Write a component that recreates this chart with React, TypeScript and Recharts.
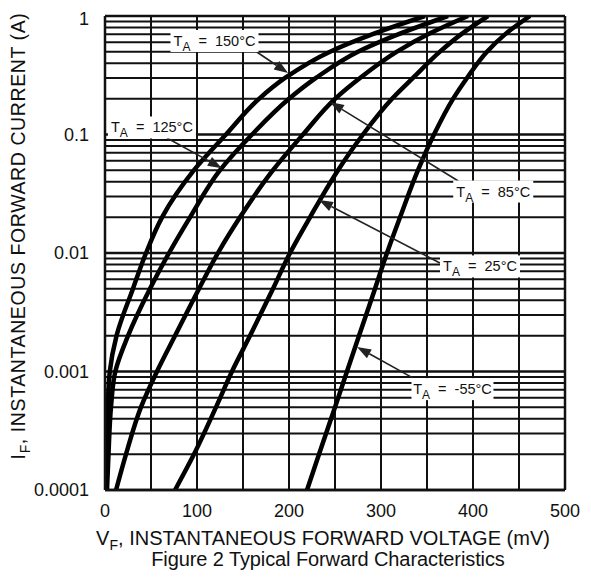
import { LineChart, Line, XAxis, YAxis, CartesianGrid, ReferenceLine, ReferenceDot } from "recharts"

// forward current levels (A) at which the curves were read
const currents = [0.0001, 0.0002, 0.0005, 0.001, 0.002, 0.005, 0.01, 0.02, 0.05, 0.1, 0.2, 0.3, 0.5, 0.7, 1]

// forward voltage (mV) of each curve at those currents
const v150 = [1.1, 2.0, 3.0, 5.2, 12.5, 30.4, 44.6, 62.0, 96.7, 131.5, 167.4, 195.7, 244.6, 290.2, 347.8]
const v125 = [2.2, 3.8, 6.5, 11.2, 25.0, 48.9, 69.6, 92.4, 125.0, 159.8, 200.0, 229.3, 275.0, 318.5, 372.8]
const v85 = [12.0, 22.8, 39.1, 56.5, 76.1, 102.2, 122.8, 146.7, 182.6, 215.2, 250.0, 277.2, 317.4, 351.1, 394.6]
const v25 = [76.1, 96.7, 120.7, 138.0, 157.6, 182.6, 201.1, 222.8, 253.3, 280.4, 312.0, 334.8, 364.1, 387.0, 416.3]
const vm55 = [219.6, 232.6, 250.0, 263.0, 276.1, 293.5, 306.5, 320.7, 340.2, 357.6, 378.3, 393.5, 415.2, 434.8, 462.0]

const xTicks = [0, 100, 200, 300, 400, 500]
const xGrid = [0, 50, 100, 150, 200, 250, 300, 350, 400, 450, 500]
const yTicks = [0.0001, 0.001, 0.01, 0.1, 1]
const yTickLabels = ["0.0001", "0.001", "0.01", "0.1", "1"]

// minor log grid: 2..9 in every decade
const yGrid: number[] = []
for (let d = 0; d < 4; d++) {
  for (let k = 2; k <= 9; k++) yGrid.push(k * yTicks[d])
}

// annotations: text, box centre, arrow start and arrow tip
const notes = [
  { t: "150°C", at: { v: 119, i: 0.615 }, w: 88, from: { v: 165, i: 0.497 }, to: { v: 199, i: 0.33 } },
  { t: "125°C", at: { v: 51, i: 0.1146 }, w: 88, from: { v: 67.4, i: 0.0934 }, to: { v: 127, i: 0.052 } },
  { t: "85°C", at: { v: 422, i: 0.033 }, w: 80, from: { v: 384, i: 0.0405 }, to: { v: 244.6, i: 0.188 } },
  { t: "25°C", at: { v: 407.6, i: 0.0077 }, w: 80, from: { v: 364, i: 0.00824 }, to: { v: 232.6, i: 0.028 } },
  { t: "-55°C", at: { v: 377.7, i: 0.00071 }, w: 82, from: { v: 335, i: 0.00088 }, to: { v: 274, i: 0.00161 } },
]

const toPts = (vs: number[]) => vs.map((v, k) => ({ v, i: currents[k] }))
const series = [v150, v125, v85, v25, vm55].map(toPts)

const FONT = '"Liberation Sans", Arial, sans-serif'

const Arrow = (props: any) => {
  const { x1, y1, x2, y2 } = props
  const a = Math.atan2(y2 - y1, x2 - x1)
  const L = 14
  const W = 5
  const bx = x2 - L * Math.cos(a)
  const by = y2 - L * Math.sin(a)
  const px = -Math.sin(a) * W
  const py = Math.cos(a) * W
  return (
    <g>
      <line x1={x1} y1={y1} x2={bx} y2={by} stroke="#222" strokeWidth={1.6} />
      <polygon points={`${x2},${y2} ${bx + px},${by + py} ${bx - px},${by - py}`} fill="#222" />
    </g>
  )
}

const noteBox = (text: string, w: number) => (props: any) => {
  const { cx, cy } = props
  return (
    <g>
      <rect x={cx - w / 2} y={cy - 11} width={w} height={22} fill="#fff" />
      <text x={cx} y={cy + 5} textAnchor="middle" fontFamily={FONT} fontSize={14.5} fill="#111" style={{ whiteSpace: "pre" }}>
        T<tspan fontSize={12} dy={5}>A</tspan>
        <tspan dy={-5}>{"  =  " + text}</tspan>
      </text>
    </g>
  )
}

const YTitle = (props: any) => {
  const vb = props.viewBox
  const x = vb.x + 17
  const y = vb.y + vb.height / 2 - 17
  return (
    <text x={x} y={y} transform={`rotate(-90 ${x} ${y})`} textAnchor="middle" fontFamily={FONT} fontSize={19.5} letterSpacing={0.6} fill="#111">
      I<tspan fontSize={14} dy={5}>F</tspan>
      <tspan dy={-5}>, INSTANTANEOUS FORWARD CURRENT (A)</tspan>
    </text>
  )
}

const XTitle = (props: any) => {
  const vb = props.viewBox
  const x = vb.x + vb.width / 2 - 12
  return (
    <g fontFamily={FONT} fill="#111">
      <text x={x} y={vb.y + 55} textAnchor="middle" fontSize={20}>
        V<tspan fontSize={14} dy={5}>F</tspan>
        <tspan dy={-5}>, INSTANTANEOUS FORWARD VOLTAGE (mV)</tspan>
      </text>
      <text x={x + 5} y={vb.y + 76} textAnchor="middle" fontSize={20} letterSpacing={-0.1}>
        Figure 2 Typical Forward Characteristics
      </text>
    </g>
  )
}

export default function App() {
  return (
    <LineChart width={575} height={563} margin={{ top: 8, right: 18, left: 0, bottom: 0 }} style={{ fontFamily: FONT }}>
      <CartesianGrid horizontal={false} verticalValues={xGrid} stroke="#111" strokeWidth={2} />
      {yGrid.map((g) => (
        <ReferenceLine key={"g" + g} y={g} stroke="#111" strokeWidth={2} />
      ))}
      {yTicks.map((g) => (
        <ReferenceLine key={"d" + g} y={g} stroke="#111" strokeWidth={2.5} />
      ))}
      <XAxis
        type="number"
        dataKey="v"
        domain={[0, 500]}
        ticks={xTicks}
        allowDataOverflow
        height={81}
        tickLine={false}
        tickSize={0}
        tickMargin={14}
        axisLine={{ stroke: "#111", strokeWidth: 2.5 }}
        tick={{ fill: "#111", fontSize: 18, fontFamily: FONT }}
        label={{ content: XTitle }}
      />
      <YAxis
        type="number"
        dataKey="i"
        scale="log"
        domain={[0.0001, 1]}
        ticks={yTicks}
        allowDataOverflow
        width={97}
        tickLine={false}
        tickSize={0}
        tickMargin={16}
        axisLine={{ stroke: "#111", strokeWidth: 2.5 }}
        tick={{ fill: "#111", fontSize: 18, fontFamily: FONT }}
        tickFormatter={(val: number) => yTickLabels[yTicks.indexOf(val)] ?? String(val)}
        label={{ content: YTitle }}
      />
      <ReferenceLine x={500} stroke="#111" strokeWidth={2.5} />
      {series.map((d, k) => (
        <Line
          key={k}
          data={d}
          dataKey="i"
          type="monotoneY"
          stroke="#000"
          strokeWidth={4.5}
          dot={false}
          activeDot={false}
          isAnimationActive={false}
        />
      ))}
      {notes.map((n, k) => (
        <ReferenceLine
          key={"a" + k}
          segment={[
            { x: n.from.v, y: n.from.i },
            { x: n.to.v, y: n.to.i },
          ]}
          ifOverflow="visible"
          shape={Arrow}
        />
      ))}
      {notes.map((n, k) => (
        <ReferenceDot key={"n" + k} x={n.at.v} y={n.at.i} r={0} ifOverflow="visible" shape={noteBox(n.t, n.w)} />
      ))}
    </LineChart>
  )
}
